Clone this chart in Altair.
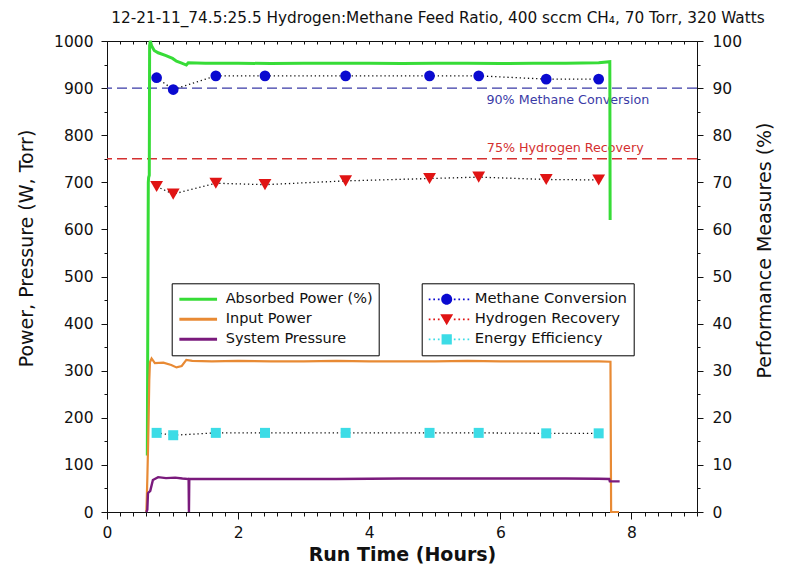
import altair as alt
import pandas as pd

FONT = "DejaVu Sans"
INK = "#111111"

# ---------------- data ----------------
title_text = "12-21-11_74.5:25.5 Hydrogen:Methane Feed Ratio, 400 sccm CH\u2084, 70 Torr, 320 Watts"

line_names = ["Absorbed Power (%)", "Input Power", "System Pressure"]
line_colors = ["#37dc37", "#e88a34", "#7a1a7c"]

absorbed_x = [0.615, 0.63, 0.635, 0.645, 0.65, 0.66, 0.68, 0.72, 0.78, 0.90, 1.00, 1.06, 1.14,
              1.21, 1.24, 1.5, 2.0, 2.5, 3.0, 3.5, 4.0, 4.5, 5.0, 5.5, 6.0, 6.5, 7.0, 7.5, 7.67, 7.675]
absorbed_y = [12, 70, 71, 71.5, 99, 100, 99, 98, 97.5, 96.9, 96.3, 95.7, 95.3,
              94.9, 95.4, 95.3, 95.3, 95.2, 95.3, 95.3, 95.3, 95.2, 95.3, 95.3, 95.2, 95.3, 95.3, 95.4, 95.6, 62]

input_x = [0.600, 0.605, 0.615, 0.625, 0.635, 0.645, 0.655, 0.68, 0.73, 0.86, 0.98, 1.06, 1.14, 1.21,
           1.30, 1.6, 2.0, 2.5, 3.0, 3.5, 4.0, 4.5, 5.0, 5.5, 6.0, 6.5, 7.0, 7.5, 7.68, 7.69, 7.81]
input_y = [0, 20, 70, 130, 200, 280, 318, 326, 316, 317, 312, 307, 310, 323,
           321, 320, 321, 320, 320, 321, 320, 320, 320, 321, 320, 320, 320, 320, 319, 0, 0]

pressure_x = [0.60, 0.615, 0.625, 0.64, 0.66, 0.70, 0.78, 0.90, 1.04, 1.15, 1.245, 1.25, 1.255, 1.5,
              2.0, 2.5, 3.0, 3.5, 4.0, 4.5, 5.0, 5.5, 6.0, 6.5, 7.0, 7.5, 7.66, 7.67, 7.82]
pressure_y = [0, 5, 40, 42, 45, 68, 74, 72, 73, 71, 70, 0, 70, 70,
              70, 70, 70, 70, 70.5, 71, 71, 71, 71, 71, 71, 70.5, 70, 65, 65]

measure_names = ["Methane Conversion", "Hydrogen Recovery", "Energy Efficiency"]
measure_colors = ["#0a0ad0", "#e01414", "#3cdce6"]
marker_x = [0.757, 1.01, 1.66, 2.41, 3.64, 4.92, 5.67, 6.70, 7.50]
methane = [92.2, 89.7, 92.6, 92.6, 92.6, 92.6, 92.6, 91.9, 91.9]
hydrogen = [69.1, 67.5, 69.8, 69.5, 70.3, 70.8, 71.1, 70.6, 70.5]
energy = [16.8, 16.3, 16.8, 16.8, 16.8, 16.8, 16.8, 16.7, 16.7]

ref_values = [90, 75]
ref_colors = ["#3a3aa6", "#d43030"]
ref_labels = ["90% Methane Conversion", "75% Hydrogen Recovery"]
ref_label_x = [7.03, 6.99]
ref_label_y = [87.4, 77.2]

x_major = [0, 2, 4, 6, 8]
x_minor = [round(0.2 * i, 1) for i in range(46)]
left_major = list(range(0, 1001, 100))
left_minor = list(range(50, 1000, 100))
right_major = list(range(0, 101, 10))
right_minor = list(range(5, 100, 10))

# ---------------- tables ----------------
lines_left = pd.DataFrame({
    "x": input_x + pressure_x,
    "y": input_y + pressure_y,
    "series": [line_names[1]] * len(input_x) + [line_names[2]] * len(pressure_x),
})
absorbed_df = pd.DataFrame({"x": absorbed_x, "y": absorbed_y, "series": line_names[0]})
measures = pd.DataFrame({
    "x": marker_x * 3,
    "y": methane + hydrogen + energy,
    "series": [measure_names[0]] * 9 + [measure_names[1]] * 9 + [measure_names[2]] * 9,
})
refs = pd.DataFrame({"v": ref_values, "label": ref_labels, "lx": ref_label_x, "ly": ref_label_y})

# ---------------- scales / axes ----------------
XS = alt.Scale(domain=[0, 9], nice=False, zero=False)
YL = alt.Scale(domain=[0, 1000], nice=False, zero=False)
YR = alt.Scale(domain=[0, 100], nice=False, zero=False)

AX = dict(grid=False, domainColor=INK, tickColor=INK, labelColor=INK, titleColor=INK,
          labelFont=FONT, titleFont=FONT, domainWidth=1, tickWidth=1,
          labelFlush=False, labelOverlap=False)

ax_bottom = alt.Axis(orient="bottom", values=x_major, format="d", tickSize=7, labelFontSize=15.5,
                     labelPadding=6, title="Run Time (Hours)", titleFontSize=19,
                     titleFontWeight="bold", titleY=42, titleBaseline="middle", **AX)
ax_bottom_minor = alt.Axis(orient="bottom", values=x_minor, tickSize=4, labels=False, domain=False,
                           title=None, **AX)
ax_top = alt.Axis(orient="bottom", values=x_minor, tickSize=3, labels=False, domain=True, title=None,
                  offset=-471, **AX)
ax_left = alt.Axis(orient="left", values=left_major, format="d", tickSize=6, labelFontSize=15.5,
                   labelPadding=8, title="Power, Pressure (W, Torr)", titleFontSize=19,
                   titleFontWeight="normal", titleAngle=270, titleX=-81, titleY=207,
                   titleAlign="center", titleBaseline="middle", **AX)
ax_left_minor = alt.Axis(orient="left", values=left_minor, tickSize=3, labels=False, domain=False,
                         title=None, **AX)
ax_right = alt.Axis(orient="right", values=right_major, format="d", tickSize=6, labelFontSize=15.5,
                    labelPadding=9, title="Performance Measures (%)", titleFontSize=19,
                    titleFontWeight="normal", titleAngle=270, titleX=67, titleY=209,
                    titleAlign="center", titleBaseline="middle", **AX)
ax_right_minor = alt.Axis(orient="right", values=right_minor, tickSize=3, labels=False,
                          domain=False, title=None, **AX)

# ---------------- legends ----------------
leg_lines = alt.Legend(orient="none", legendX=64.7, legendY=242.3, title=None, padding=6,
                       strokeColor="black", fillColor="white", symbolType="M-1,0H1",
                       symbolSize=1421, symbolStrokeWidth=3, labelFont=FONT, labelFontSize=14.5,
                       labelColor=INK, labelOffset=7, clipHeight=20, rowPadding=0)


def dot_run(a, b, step=0.24, w=0.09):
    parts, x = [], a
    while x <= b + 1e-9:
        parts.append(f"M{x - w / 2:.3f},{-w / 2:.3f}h{w:.3f}v{w:.3f}h{-w:.3f}Z")
        x += step
    return "".join(parts)


dots = dot_run(-1.14, -0.4) + dot_run(0.42, 1.3)
legend_shapes = [
    dots + "M-0.29,0A0.29,0.29,0,1,0,0.29,0A0.29,0.29,0,1,0,-0.29,0Z",
    dots + "M-0.34,-0.27L0.34,-0.27L0,0.31Z",
    dots + "M-0.27,-0.27H0.27V0.27H-0.27Z",
]
leg_marks = alt.Legend(orient="none", legendX=314.7, legendY=242.3, title=None, padding=6,
                       strokeColor="black", fillColor="white", symbolSize=1444,
                       symbolStrokeWidth=0, symbolOpacity=1, labelFont=FONT, labelFontSize=14.8,
                       labelColor=INK, labelOffset=9, clipHeight=20, rowPadding=0)

stroke_enc = alt.Stroke("series:N", scale=alt.Scale(domain=line_names, range=line_colors),
                        legend=leg_lines)

# ---------------- layers ----------------
rules = []
for i in range(len(ref_values)):
    d = refs.iloc[[i]]
    rules.append(alt.Chart(d).mark_rule(color=ref_colors[i], strokeWidth=1.3, strokeDash=[10, 5]).encode(
        y=alt.Y("v:Q", scale=YR, axis=None)))
    rules.append(alt.Chart(d).mark_text(color=ref_colors[i], font=FONT, fontSize=12.7,
                                        align="center", baseline="middle").encode(
        x=alt.X("lx:Q", scale=XS, axis=None),
        y=alt.Y("ly:Q", scale=YR, axis=None),
        text="label:N"))

green = alt.Chart(absorbed_df).mark_line(strokeWidth=3).encode(
    x=alt.X("x:Q", scale=XS, axis=ax_top),
    y=alt.Y("y:Q", scale=YR, axis=ax_right),
    stroke=stroke_enc)

orange = alt.Chart(lines_left).transform_filter(alt.datum.series == line_names[1]).mark_line(
    strokeWidth=2.2).encode(
    x=alt.X("x:Q", scale=XS, axis=ax_bottom),
    y=alt.Y("y:Q", scale=YL, axis=ax_left),
    stroke=stroke_enc)

purple = alt.Chart(lines_left).transform_filter(alt.datum.series == line_names[2]).mark_line(
    strokeWidth=2.4).encode(
    x=alt.X("x:Q", scale=XS, axis=ax_bottom_minor),
    y=alt.Y("y:Q", scale=YL, axis=ax_left_minor),
    stroke=stroke_enc)

dotted = alt.Chart(measures).mark_line(color=INK, strokeWidth=1.3, strokeDash=[1.3, 2.8]).encode(
    x=alt.X("x:Q", scale=XS, axis=None),
    y=alt.Y("y:Q", scale=YR, axis=ax_right_minor),
    detail="series:N")

shapes = ["circle", "triangle-down", "square"]
sizes = [115, 165, 100]
pts = []
for i, name in enumerate(measure_names):
    pts.append(alt.Chart(measures).transform_filter(alt.datum.series == name).mark_point(
        filled=True, shape=shapes[i], size=sizes[i], color=measure_colors[i], opacity=1).encode(
        x=alt.X("x:Q", scale=XS, axis=None),
        y=alt.Y("y:Q", scale=YR, axis=None)))

legend_layer = alt.Chart(measures).mark_point(filled=True, opacity=0).encode(
    x=alt.X("x:Q", scale=XS, axis=None),
    y=alt.Y("y:Q", scale=YR, axis=None),
    fill=alt.Fill("series:N", scale=alt.Scale(domain=measure_names, range=measure_colors),
                  legend=leg_marks),
    shape=alt.Shape("series:N", scale=alt.Scale(domain=measure_names, range=legend_shapes),
                    legend=leg_marks))

chart = alt.layer(*rules, green, orange, purple, dotted, *pts, legend_layer).resolve_scale(
    x="independent", y="independent").resolve_axis(x="independent", y="independent").properties(
    width=590, height=471,
    padding={"left": 99, "top": 33, "right": 80, "bottom": 55},
    autosize=alt.AutoSizeParams(type="none"),
    background="white",
    title=alt.TitleParams(text=title_text, font=FONT, fontSize=15.3, fontWeight="normal",
                          color=INK, anchor="middle", frame="group", dx=36, offset=8),
).configure_view(stroke=None)

chart.save("out.html", embed_options={"renderer": "svg", "actions": False})
